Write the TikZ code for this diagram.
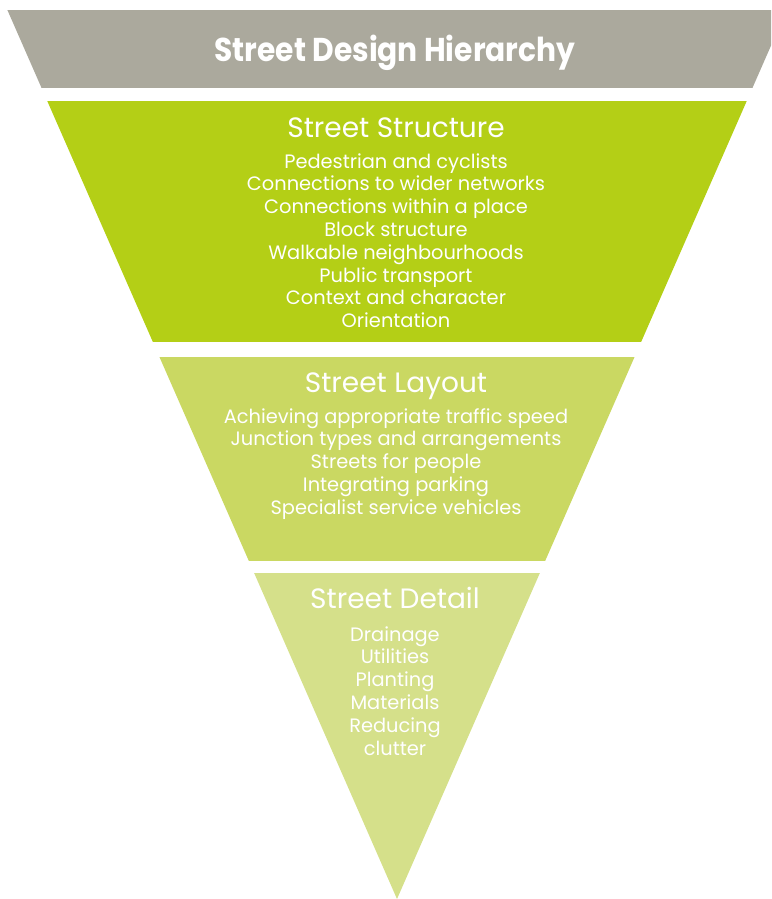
\documentclass[tikz,border=0pt]{standalone}
\usepackage{fontspec}
\setmainfont{Poppins}
\newfontfamily\tw{Poppins}
\newfontfamily\twb[FakeStretch=0.9]{Poppins}
\definecolor{bandgray}{RGB}{171,169,157}
\definecolor{greenA}{RGB}{180,207,22}
\definecolor{greenB}{RGB}{202,216,98}
\definecolor{greenC}{RGB}{213,224,138}
\begin{document}
\begin{tikzpicture}[x=1pt,y=-1pt,
  every node/.style={text=white,inner sep=0pt,anchor=base},
  item/.style={font=\tw\fontsize{19.4}{21}\selectfont},
  heading/.style={font=\tw\fontsize{28}{30}\selectfont},
  titletext/.style={font=\twb\bfseries\fontsize{33}{35}\selectfont}]
\useasboundingbox (0,0) rectangle (771,899);
\begin{scope}
  \clip (0,0) rectangle (771,899);
  \clip (3,0) -- (791,0) -- (397,899) -- cycle;
  \fill[bandgray] (0,10) rectangle (800,88);
  \fill[greenA] (0,101) rectangle (800,342);
  \fill[greenB] (0,357) rectangle (800,561);
  \fill[greenC] (0,573) rectangle (800,899);
\end{scope}
\node[titletext] (title) at (395,62) {Street Design Hierarchy};
\node[heading] (h1) at (396,137) {Street Structure};
\foreach \t [count=\i] in {Pedestrian and cyclists,Connections to wider networks,Connections within a place,Block structure,Walkable neighbourhoods,Public transport,Context and character,Orientation}
  \node[item] (a\i) at (396,{168+22.8*(\i-1)}) {\t};
\node[heading] (h2) at (396,392) {Street Layout};
\foreach \t [count=\i] in {Achieving appropriate traffic speed,Junction types and arrangements,Streets for people,Integrating parking,Specialist service vehicles}
  \node[item] (b\i) at (396,{423+22.8*(\i-1)}) {\t};
\node[heading] (h3) at (395,608) {Street Detail};
\foreach \t [count=\i] in {Drainage,Utilities,Planting,Materials,Reducing,clutter}
  \node[item] (c\i) at (395,{641+22.8*(\i-1)}) {\t};
\end{tikzpicture}
\end{document}
